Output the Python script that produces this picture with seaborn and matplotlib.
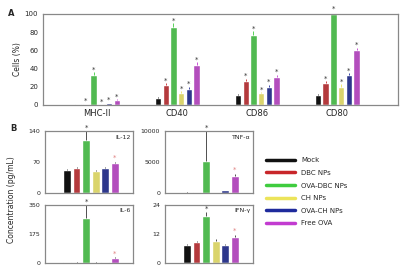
import matplotlib
matplotlib.use("Agg")
import matplotlib.pyplot as plt
from matplotlib.lines import Line2D
import pandas as pd
import seaborn as sns

# groups and colours
groups = ["Mock", "DBC NPs", "OVA-DBC NPs", "CH NPs", "OVA-CH NPs", "Free OVA"]
colors = ["#111111", "#c8262a", "#3fcc3f", "#ece45a", "#1e2a9c", "#c23bd0"]

# panel A: surface markers, % cells
markers = ["MHC-II", "CD40", "CD86", "CD80"]
mock = [0.5, 8, 11, 11]
dbc = [1, 22, 26, 24]
ova_dbc = [33, 86, 77, 100]
ch = [0.5, 13, 13, 20]
ova_ch = [2, 17, 20, 33]
free_ova = [5, 44, 31, 60]
err_a = [[0.3, 1, 1, 1], [0.5, 2, 3, 2], [3, 4, 4, 3], [0.3, 2, 1, 3],
         [0.5, 3, 2, 2], [1, 3, 2, 3]]

# panel B: cytokines, pg/mL
cytokines = ["IL-12", "TNF-α", "IL-6", "IFN-γ"]
il12 = [51, 57, 119, 49, 57, 67]
tnf = [50, 100, 5200, 30, 400, 2700]
il6 = [4, 3, 270, 3, 5, 30]
ifng = [7.3, 8.7, 19.5, 9, 7.3, 10.7]
err_b = [[2, 2, 21, 3, 2, 3], [20, 30, 4800, 10, 80, 400],
         [1, 1, 80, 1, 1, 4], [0.4, 0.5, 1.5, 0.8, 0.4, 1]]
ylims_b = [140, 10000, 350, 24]
yticks_b = [[0, 70, 140], [0, 5000, 10000], [0, 175, 350], [0, 12, 24]]

sns.set_style("white")
plt.rcParams["font.family"] = ["DejaVu Sans"]
plt.rcParams["font.size"] = 5

fig = plt.figure(figsize=(4.0, 2.74), dpi=100)

# ---- panel A
series_a = [mock, dbc, ova_dbc, ch, ova_ch, free_ova]
df_a = pd.DataFrame([(m, g, v) for g, vals in zip(groups, series_a)
                     for m, v in zip(markers, vals)],
                    columns=["marker", "group", "value"])
ax = fig.add_axes([0.1075, 0.617, 0.8875, 0.332])
sns.barplot(data=df_a, x="marker", y="value", hue="group", hue_order=groups,
            palette=colors, width=0.58, gap=0.18, errorbar=None,
            legend=False, ax=ax)
bar_groups = list(ax.containers)
for gi, bars in enumerate(bar_groups):
    for bi, p in enumerate(bars):
        xc = p.get_x() + p.get_width() / 2
        h = p.get_height()
        e = err_a[gi][bi]
        ax.errorbar(xc, h, yerr=[[0], [e]], color=colors[gi], lw=0.6,
                    capsize=0)
        if gi > 0:
            ax.text(xc, h + e + 3, "*", ha="center", va="center",
                    fontsize=5, color="#333333")
ax.set_xlim(-0.68, 3.76)
ax.set_ylim(0, 100)
ax.set_yticks(range(0, 101, 20))
ax.set_xlabel("")
ax.set_ylabel("Cells (%)", fontsize=5.5, labelpad=2)
ax.tick_params(axis="both", labelsize=5, length=2, width=0.6, pad=1.5)
ax.tick_params(axis="x", labelsize=6, length=0, pad=3)
for s in ax.spines.values():
    s.set_color("#888888")
    s.set_linewidth(0.9)
fig.text(0.02, 0.95, "A", fontsize=6, fontweight="bold", va="center")

# ---- panel B
series_b = [il12, tnf, il6, ifng]
rects = [[0.1125, 0.296, 0.22, 0.226], [0.4125, 0.296, 0.22, 0.226],
         [0.1125, 0.04, 0.22, 0.212], [0.4125, 0.04, 0.22, 0.212]]
for k, name in enumerate(cytokines):
    axb = fig.add_axes(rects[k])
    df_b = pd.DataFrame({"group": groups, "value": series_b[k]})
    sns.barplot(data=df_b, x="group", y="value", hue="group",
                hue_order=groups, order=groups, palette=colors, width=0.8,
                errorbar=None, legend=False, ax=axb)
    for gi, p in enumerate(list(axb.patches)):
        xc = p.get_x() + p.get_width() / 2
        h = p.get_height()
        e = err_b[k][gi]
        axb.errorbar(xc, h, yerr=[[0], [e]], color="#333333", lw=0.6,
                     capsize=0, clip_on=False)
        if gi in (2, 5):
            axb.text(xc, h + e + ylims_b[k] * 0.06, "*", ha="center",
                     va="center", fontsize=5,
                     color="#333333" if gi == 2 else "#e08080",
                     clip_on=False)
    axb.set_xlim(-2.3, 6.9)
    axb.set_ylim(0, ylims_b[k])
    axb.set_yticks(yticks_b[k])
    axb.set_xticks([])
    axb.set_xlabel("")
    axb.set_ylabel("")
    axb.tick_params(axis="y", labelsize=4.5, length=2, width=0.6, pad=1.5)
    axb.text(0.97, 0.9, name, transform=axb.transAxes, ha="right",
             va="center", fontsize=4.5)
    for s in axb.spines.values():
        s.set_color("#888888")
        s.set_linewidth(0.9)

fig.text(0.025, 0.53, "B", fontsize=6, fontweight="bold", va="center")
fig.text(0.03, 0.27, "Concentration (pg/mL)", rotation=90, fontsize=5.5,
         ha="center", va="center")

handles = [Line2D([0], [0], color=c, lw=2.5) for c in colors]
fig.legend(handles, groups, loc="center left", bbox_to_anchor=(0.65, 0.3),
           frameon=False, fontsize=5, handlelength=4.2, labelspacing=0.95,
           handletextpad=0.8)

fig.savefig("out.png", dpi=100)
